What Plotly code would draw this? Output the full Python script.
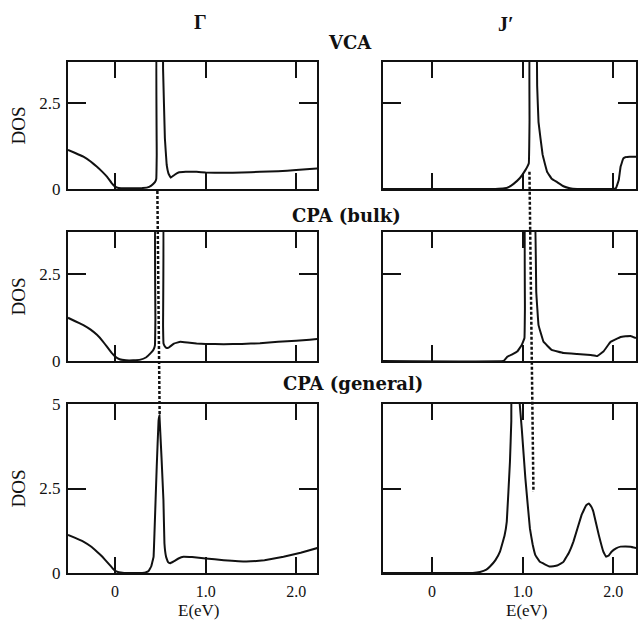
import plotly.graph_objects as go

# ---------------- data ----------------
# Gamma point, VCA
E_vca_g = [-0.52, -0.44, -0.35, -0.27, -0.2, -0.14, -0.09, -0.04, 0.0, 0.04, 0.12, 0.22, 0.3,
           0.35, 0.4, 0.44, 0.455, 0.46, 0.461, 0.525, 0.53, 0.55, 0.57, 0.59, 0.615, 0.65,
           0.7, 0.78, 0.9, 1.0, 1.2, 1.4, 1.6, 1.8, 2.0, 2.15, 2.24]
dos_vca_g = [1.14, 1.05, 0.94, 0.8, 0.65, 0.5, 0.36, 0.18, 0.07, 0.03, 0.02, 0.02, 0.03,
             0.04, 0.1, 0.2, 0.3, 1.0, 4.5, 4.5, 3.5, 1.48, 0.7, 0.45, 0.33, 0.4,
             0.48, 0.5, 0.5, 0.48, 0.47, 0.48, 0.5, 0.52, 0.55, 0.58, 0.6]

# Gamma point, CPA (bulk)
E_bulk_g = [-0.52, -0.44, -0.35, -0.27, -0.2, -0.14, -0.09, -0.04, 0.0, 0.05, 0.12, 0.2, 0.28,
            0.34, 0.39, 0.425, 0.44, 0.445, 0.447, 0.528, 0.53, 0.535, 0.55, 0.57, 0.6, 0.65,
            0.72, 0.8, 0.9, 1.0, 1.2, 1.4, 1.6, 1.8, 2.0, 2.15, 2.24]
dos_bulk_g = [1.24, 1.14, 1.03, 0.9, 0.75, 0.58, 0.41, 0.24, 0.13, 0.05, 0.02, 0.02, 0.04,
              0.1, 0.22, 0.33, 0.45, 1.2, 4.5, 4.5, 1.0, 0.5, 0.42, 0.37, 0.4, 0.5,
              0.55, 0.53, 0.5, 0.49, 0.48, 0.49, 0.51, 0.55, 0.58, 0.61, 0.63]

# Gamma point, CPA (general)
E_gen_g = [-0.52, -0.44, -0.35, -0.27, -0.2, -0.14, -0.09, -0.04, -0.01, 0.04, 0.1, 0.2, 0.3,
           0.34, 0.37, 0.4, 0.425, 0.435, 0.46, 0.48, 0.49, 0.534, 0.545, 0.563, 0.585, 0.608,
           0.65, 0.7, 0.755, 0.85, 1.0, 1.2, 1.45, 1.65, 1.86, 2.05, 2.25]
dos_gen_g = [1.13, 1.04, 0.93, 0.79, 0.63, 0.48, 0.33, 0.18, 0.09, 0.02, 0.0, 0.0, 0.0,
             0.02, 0.06, 0.2, 0.48, 1.18, 3.15, 4.5, 4.67, 2.16, 0.88, 0.48, 0.32, 0.29,
             0.35, 0.43, 0.48, 0.47, 0.43, 0.38, 0.34, 0.38, 0.48, 0.6, 0.75]

# J' point, VCA
E_vca_j = [-0.54, 0.7, 0.8, 0.84, 0.9, 0.97, 1.03, 1.068, 1.076, 1.08, 1.15, 1.16, 1.175,
           1.22, 1.27, 1.32, 1.38, 1.45, 1.52, 1.6, 2.0, 2.03, 2.06, 2.08, 2.11, 2.14, 2.18, 2.25]
dos_vca_j = [0.0, 0.0, 0.02, 0.05, 0.15, 0.32, 0.55, 0.75, 2.0, 4.5, 4.5, 3.0, 1.95,
             1.0, 0.5, 0.3, 0.2, 0.08, 0.02, 0.0, 0.0, 0.03, 0.26, 0.65, 0.89, 0.93, 0.94, 0.94]

# J' point, CPA (bulk)
E_bulk_j = [-0.54, 0.79, 0.83, 0.89, 0.94, 0.99, 1.02, 1.025, 1.03, 1.13, 1.15, 1.175, 1.23,
            1.32, 1.45, 1.6, 1.75, 1.82, 1.89, 1.97, 2.08, 2.19, 2.25]
dos_bulk_j = [0.0, 0.0, 0.12, 0.2, 0.27, 0.46, 0.66, 1.5, 4.5, 4.5, 1.98, 1.03, 0.55,
              0.32, 0.23, 0.2, 0.17, 0.14, 0.27, 0.55, 0.69, 0.72, 0.66]

# J' point, CPA (general)
E_gen_j = [-0.54, 0.45, 0.53, 0.6, 0.64, 0.7, 0.75, 0.8, 0.825, 0.86, 0.875, 0.88, 0.955,
           0.965, 0.99, 1.03, 1.08, 1.11, 1.14, 1.19, 1.3, 1.38, 1.45, 1.51, 1.56, 1.65, 1.7,
           1.73, 1.76, 1.78, 1.84, 1.89, 1.92, 1.95, 1.98, 2.03, 2.08, 2.19, 2.26]
dos_gen_j = [0.0, 0.0, 0.03, 0.1, 0.19, 0.38, 0.63, 1.1, 1.52, 3.29, 4.5, 5.6, 5.6,
             5.1, 4.28, 2.8, 1.32, 0.85, 0.53, 0.33, 0.19, 0.22, 0.33, 0.6, 0.93, 1.72, 2.0,
             2.06, 1.95, 1.81, 1.12, 0.63, 0.48, 0.52, 0.63, 0.73, 0.78, 0.78, 0.73]

# dotted guide lines following the peak (E in eV, DOS in first / last row units)
guide_g_E = [0.467, 0.492]
guide_g_dos = [-0.06, 4.7]
guide_j_E = [1.075, 1.119]
guide_j_dos = [0.5, 2.4]

col_titles = ["\u0393", "J\u2032"]
row_titles = ["VCA", "CPA (bulk)", "CPA (general)"]
xtick_vals = [0, 1, 2]
xtick_text = ["0", "1.0", "2.0"]
ytick_vals = [[0, 2.5], [0, 2.5], [0, 2.5, 5]]
ytick_text = [["0", "2.5"], ["0", "2.5"], ["0", "2.5", "5"]]
x_title = "E(eV)"
y_title = "DOS"

# ---------------- layout geometry ----------------
W, H = 639, 621
col_px = [(68, 317), (383, 636)]
row_px = [(62, 189), (232, 361), (404, 573)]
x_ranges = [[-0.52, 2.23], [-0.54, 2.25]]
y_ranges = [[0, 3.7], [0, 3.7], [0, 5]]

xdom = [[l / W, r / W] for l, r in col_px]
ydom = [[1 - b / H, 1 - t / H] for t, b in row_px]


def paper_y(row, v):
    d0, d1 = ydom[row]
    r0, r1 = y_ranges[row]
    return d0 + (v - r0) / (r1 - r0) * (d1 - d0)


panels = [
    (0, 0, E_vca_g, dos_vca_g), (0, 1, E_vca_j, dos_vca_j),
    (1, 0, E_bulk_g, dos_bulk_g), (1, 1, E_bulk_j, dos_bulk_j),
    (2, 0, E_gen_g, dos_gen_g), (2, 1, E_gen_j, dos_gen_j),
]

INK = "#111111"
SERIF = "Liberation Serif, Times New Roman, serif"
fig = go.Figure()
layout = {}

for row, col, E, D in panels:
    i = row * 2 + col + 1
    xs = "" if i == 1 else str(i)
    fig.add_trace(go.Scatter(x=E, y=D, mode="lines", xaxis="x" + xs, yaxis="y" + xs,
                             line=dict(color=INK, width=2, shape="spline", smoothing=0.15),
                             hoverinfo="skip", showlegend=False))
    common = dict(showline=True, linecolor=INK, linewidth=2, mirror="ticks",
                  ticks="inside", tickcolor=INK, tickwidth=2, showgrid=False,
                  zeroline=False, fixedrange=True, automargin=False)
    layout["xaxis" + xs] = dict(common, domain=xdom[col], range=x_ranges[col],
                                anchor="y" + xs, tickmode="array", tickvals=xtick_vals,
                                ticktext=xtick_text, ticklen=16,
                                tickfont=dict(family=SERIF, size=16, color=INK),
                                showticklabels=(row == 2), ticklabelstandoff=3)
    layout["yaxis" + xs] = dict(common, domain=ydom[row], range=y_ranges[row],
                                anchor="x" + xs, tickmode="array", tickvals=ytick_vals[row],
                                ticktext=ytick_text[row], ticklen=18,
                                tickfont=dict(family=SERIF, size=17, color=INK),
                                showticklabels=(col == 0), ticklabelstandoff=2)

shapes = [
    dict(type="line", xref="x5", yref="paper",
         x0=guide_g_E[0], x1=guide_g_E[1],
         y0=paper_y(0, guide_g_dos[0]), y1=paper_y(2, guide_g_dos[1]),
         line=dict(color=INK, width=2.5, dash="3px,2px")),
    dict(type="line", xref="x6", yref="paper",
         x0=guide_j_E[0], x1=guide_j_E[1],
         y0=paper_y(0, guide_j_dos[0]), y1=paper_y(2, guide_j_dos[1]),
         line=dict(color=INK, width=2.5, dash="3px,2px")),
]

ann = []
# column titles
for (txt, px, py) in [(col_titles[0], 200, 22), (col_titles[1], 506, 24)]:
    ann.append(dict(text="<b>%s</b>" % txt, x=px / W, y=1 - py / H, xref="paper", yref="paper",
                    showarrow=False, xanchor="center", yanchor="middle",
                    font=dict(family=SERIF, size=20, color=INK)))
# row titles
for (txt, px, py) in zip(row_titles, [350, 346, 353], [43, 215, 383]):
    ann.append(dict(text="<b>%s</b>" % txt, x=px / W, y=1 - py / H, xref="paper", yref="paper",
                    showarrow=False, xanchor="center", yanchor="middle",
                    font=dict(family="DejaVu Serif", size=18, color=INK)))
# DOS labels
for row in range(3):
    ann.append(dict(text=y_title, x=18 / W, y=sum(ydom[row]) / 2, xref="paper", yref="paper",
                    showarrow=False, xanchor="center", yanchor="middle", textangle=-90,
                    font=dict(family=SERIF, size=19, color=INK)))
# E(eV) labels
for px in [199, 527]:
    ann.append(dict(text=x_title, x=px / W, y=1 - 610 / H, xref="paper", yref="paper",
                    showarrow=False, xanchor="center", yanchor="middle", borderpad=0,
                    font=dict(family=SERIF, size=17, color=INK)))

fig.update_layout(**layout)
fig.update_layout(width=W, height=H, margin=dict(l=0, r=0, t=0, b=0, autoexpand=False),
                  paper_bgcolor="white", plot_bgcolor="white", showlegend=False,
                  shapes=shapes, annotations=ann)

fig.write_html("out.html")
